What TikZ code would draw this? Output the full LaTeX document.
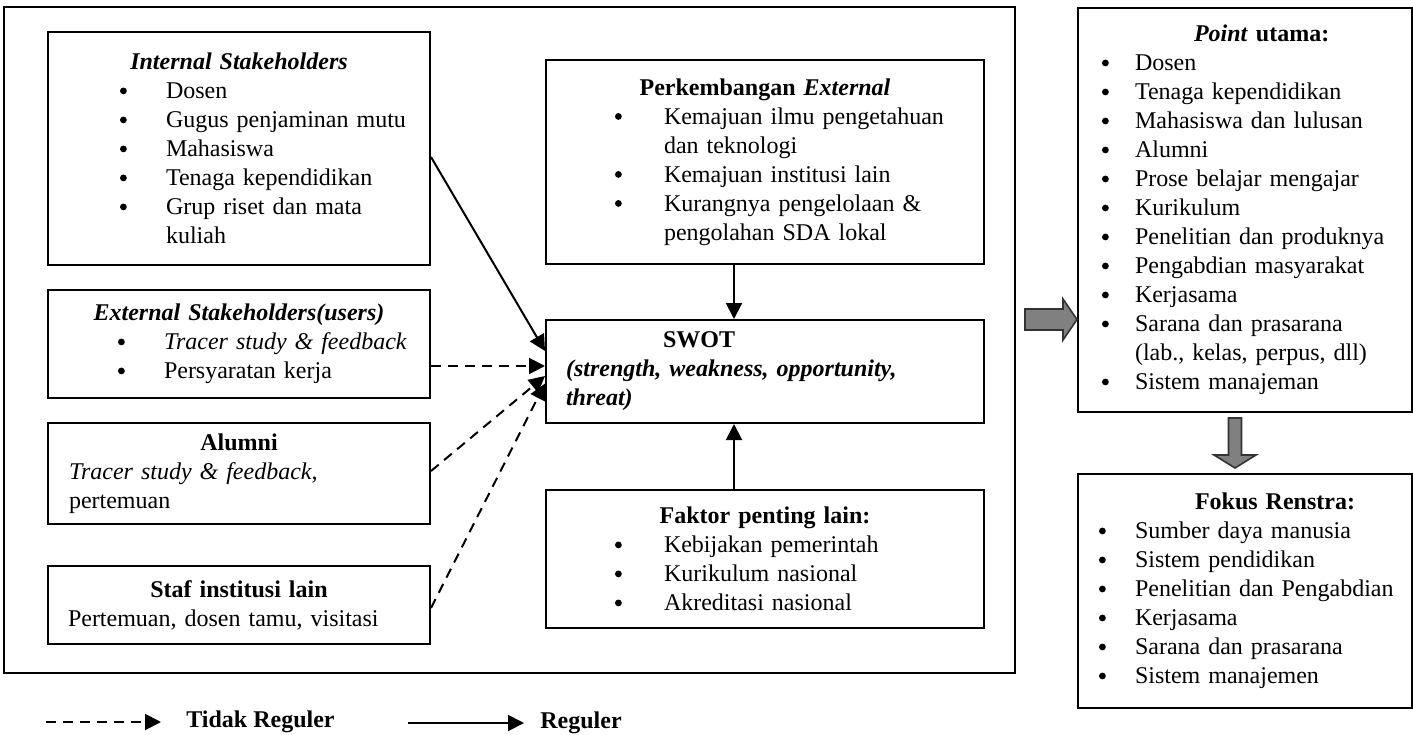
\documentclass[tikz,border=0pt]{standalone}
\usepackage{fontspec}
\setmainfont{Liberation Serif}
\usetikzlibrary{arrows.meta, positioning, calc}
\newlength{\bulind}
\newlength{\bulw}
\newcommand{\dotmark}{\tikz[baseline=0pt]\fill (1.7pt,3.9pt) circle[radius=1.7pt];}
\newcommand{\bul}[1]{\hspace*{\bulind}\makebox[\bulw][l]{\dotmark}#1}
\newcommand{\cnt}[1]{\hspace*{\bulind}\hspace*{\bulw}#1}
\newcommand{\ttl}[1]{\makebox[\linewidth]{\bfseries #1}}

\begin{document}
\begin{tikzpicture}[x=0.5pt, y=-0.5pt,
  box/.style={draw, line width=1pt, anchor=north west, inner xsep=0pt, inner ysep=0pt, align=left, font=\fontsize{12}{14.5}\selectfont},
  lbox/.style={box, text width=191pt, minimum width=191pt},
  mbox/.style={box, text width=219pt, minimum width=219pt},
  rbox/.style={box, text width=167pt, minimum width=167pt},
  bullets/.style 2 args={execute at begin node={\setlength{\bulind}{#1}\setlength{\bulw}{#2}}},
  reg/.style={line width=1pt, -{Triangle[length=8pt, width=8pt]}},
  irreg/.style={reg, dash pattern=on 5pt off 3.5pt},
  blockarrow/.style={draw=black!80, fill=black!50, line width=0.8pt, line join=miter},
  legend/.style={anchor=west, inner sep=0pt, font=\fontsize{12}{14.5}\selectfont\bfseries}
]
  \useasboundingbox (0,0) rectangle (1413,734);

  % outer frame
  \draw[line width=1pt] (4,7) rectangle (1015,673);

  % left column
  \node[lbox, bullets={36pt}{23pt}, minimum height=116.5pt] (intern) at (47,31) {
    \ttl{\itshape Internal Stakeholders}\\
    \bul{Dosen}\\
    \bul{Gugus penjaminan mutu}\\
    \bul{Mahasiswa}\\
    \bul{Tenaga kependidikan}\\
    \bul{Grup riset dan mata}\\
    \cnt{kuliah}
  };
  \node[lbox, bullets={35pt}{23pt}, minimum height=54pt] (extern) at (47,289) {
    \ttl{\itshape External Stakeholders(users)}\\
    \bul{\textit{Tracer study \& feedback}}\\
    \bul{Persyaratan kerja}
  };
  \node[lbox, minimum height=50.5pt] (alumni) at (47,422) {
    \ttl{Alumni}\\
    \hspace*{10.5pt}\textit{Tracer study \& feedback,}\\
    \hspace*{10.5pt}pertemuan
  };
  \node[lbox, minimum height=39pt] (staf) at (47,565) {
    \ttl{Staf institusi lain}\\
    \hspace*{10pt}Pertemuan, dosen tamu, visitasi
  };

  % middle column
  \node[mbox, bullets={34.5pt}{24.5pt}, minimum height=102pt] (perk) at (545,59) {
    \ttl{Perkembangan \textit{External}}\\
    \bul{Kemajuan ilmu pengetahuan}\\
    \cnt{dan teknologi}\\
    \bul{Kemajuan institusi lain}\\
    \bul{Kurangnya pengelolaan \&}\\
    \cnt{pengolahan SDA lokal}
  };
  \node[mbox, minimum height=51.5pt] (swot) at (545,319) {
    \hspace*{58.5pt}\textbf{SWOT}\\
    \hspace*{10pt}\textbf{\textit{(strength, weakness, opportunity,}}\\
    \hspace*{10pt}\textbf{\textit{threat)}}
  };
  \node[mbox, bullets={34.5pt}{24.5pt}, minimum height=69pt] (faktor) at (545,489) {
    \ttl{Faktor penting lain:}\\
    \bul{Kebijakan pemerintah}\\
    \bul{Kurikulum nasional}\\
    \bul{Akreditasi nasional}
  };

  % right column
  \node[rbox, bullets={12pt}{16.5pt}, minimum height=202pt] (point) at (1077,7) {
    \hspace*{58pt}\textbf{\textit{Point} utama:}\\
    \bul{Dosen}\\
    \bul{Tenaga kependidikan}\\
    \bul{Mahasiswa dan lulusan}\\
    \bul{Alumni}\\
    \bul{Prose belajar mengajar}\\
    \bul{Kurikulum}\\
    \bul{Penelitian dan produknya}\\
    \bul{Pengabdian masyarakat}\\
    \bul{Kerjasama}\\
    \bul{Sarana dan prasarana}\\
    \cnt{(lab., kelas, perpus, dll)}\\
    \bul{Sistem manajeman}
  };
  \node[rbox, bullets={10.5pt}{18pt}, minimum height=117pt] (fokus) at (1077,473) {
    \hspace*{58.5pt}\textbf{Fokus Renstra:}\\
    \bul{Sumber daya manusia}\\
    \bul{Sistem pendidikan}\\
    \bul{Penelitian dan Pengabdian}\\
    \bul{Kerjasama}\\
    \bul{Sarana dan prasarana}\\
    \bul{Sistem manajemen}
  };

  % connectors into SWOT
  \draw[reg] ([yshift=-4.25pt]intern.east) -- ([yshift=10.25pt]swot.west);
  \draw[irreg] ([yshift=-11pt]extern.east) -- ([yshift=-11pt]extern.east -| swot.west);
  \draw[irreg] ([yshift=1.25pt]alumni.east) -- ([yshift=-2.25pt]swot.west);
  \draw[irreg] ([yshift=-1.5pt]staf.east) -- ([yshift=-6pt]swot.west);
  \draw[reg] ([xshift=-15.5pt]perk.south) -- ([xshift=-15.5pt]swot.north);
  \draw[reg] ([xshift=-15.5pt]faktor.north) -- ([xshift=-15.5pt]swot.south);

  % block arrows
  \coordinate (pointtip) at ([yshift=-54.75pt]point.west);
  \draw[blockarrow] (pointtip) -- ++(-7pt,10.25pt) -- ++(0,-5pt) -- ++(-19pt,0) -- ++(0,-10.5pt)
    -- ++(19pt,0) -- ++(0,-5pt) -- cycle;
  \coordinate (fokustip) at ([xshift=-5pt, yshift=2.5pt]fokus.north);
  \draw[blockarrow] (fokustip) -- ++(-10.5pt,6.5pt) -- ++(7.25pt,0) -- ++(0,18.5pt) -- ++(6.5pt,0)
    -- ++(0,-18.5pt) -- ++(7.25pt,0) -- cycle;

  % legend
  \coordinate (dashstart) at (46,722);
  \node[legend] (tidak) at (186,722) {Tidak Reguler};
  \draw[irreg] (dashstart) -- ([xshift=-12.5pt]tidak.west);
  \coordinate (solidstart) at (408,723);
  \node[legend] (reguler) at (540,723) {Reguler};
  \draw[reg] (solidstart) -- ([xshift=-8pt]reguler.west);
\end{tikzpicture}
\end{document}
